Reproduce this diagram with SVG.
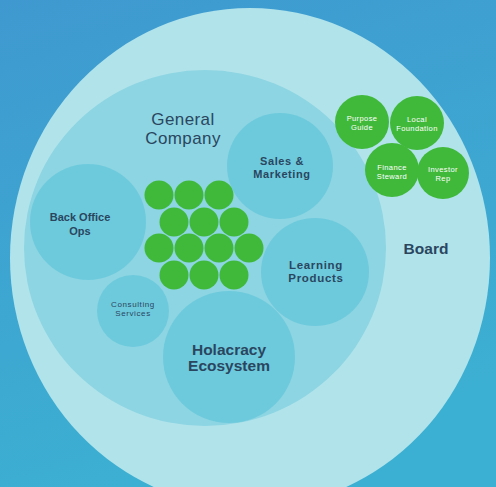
<svg xmlns="http://www.w3.org/2000/svg" width="496" height="487" viewBox="0 0 496 487">
  <defs>
    <linearGradient id="bg" x1="0" y1="0" x2="0.3" y2="1">
      <stop offset="0" stop-color="#3f99d0"/>
      <stop offset="1" stop-color="#3cb0d2"/>
    </linearGradient>
    <style>
      .outer { fill: #b1e3eb; }
      .mid { fill: #8dd5e2; }
      .sub { fill: #6dcadc; }
      .green { fill: #40b93a; }
      .t { font-family: "Liberation Sans", Arial, sans-serif; fill: #2a465f; text-anchor: middle; }
      .w { font-family: "Liberation Sans", Arial, sans-serif; fill: #ffffff; text-anchor: middle; font-size: 7.5px; letter-spacing: 0.4px; }
    </style>
  </defs>
  <rect x="0" y="0" width="496" height="487" fill="url(#bg)"/>

  <g id="board">
    <ellipse class="outer" cx="250" cy="258" rx="240" ry="250"/>
    <text class="t" x="426" y="254" font-size="15.5" font-weight="bold">Board</text>
  </g>

  <g id="general-company">
    <ellipse class="mid" cx="205" cy="248" rx="181" ry="178"/>
    <text class="t" x="183" y="125" font-size="17" letter-spacing="0.4">General</text>
    <text class="t" x="183" y="144" font-size="17" letter-spacing="0.4">Company</text>
  </g>

  <g id="back-office-ops">
    <circle class="sub" cx="88" cy="222" r="58"/>
    <text class="t" x="80" y="221" font-size="11" font-weight="bold">Back Office</text>
    <text class="t" x="80" y="235" font-size="11" font-weight="bold">Ops</text>
  </g>

  <g id="sales-marketing">
    <circle class="sub" cx="280" cy="166" r="53"/>
    <text class="t" x="282" y="165" font-size="11" font-weight="bold" letter-spacing="0.6">Sales &amp;</text>
    <text class="t" x="282" y="178" font-size="11" font-weight="bold" letter-spacing="0.6">Marketing</text>
  </g>

  <g id="learning-products">
    <circle class="sub" cx="315" cy="272" r="54"/>
    <text class="t" x="316" y="269" font-size="11.5" font-weight="bold" letter-spacing="0.7">Learning</text>
    <text class="t" x="316" y="282" font-size="11.5" font-weight="bold" letter-spacing="0.7">Products</text>
  </g>

  <g id="consulting-services">
    <circle class="sub" cx="133" cy="311" r="36"/>
    <text class="t" x="133" y="307" font-size="8" letter-spacing="0.6">Consulting</text>
    <text class="t" x="133" y="316" font-size="8" letter-spacing="0.6">Services</text>
  </g>

  <g id="holacracy-ecosystem">
    <circle class="sub" cx="229" cy="357" r="66"/>
    <text class="t" x="229" y="355" font-size="15.5" font-weight="bold">Holacracy</text>
    <text class="t" x="229" y="371" font-size="15.5" font-weight="bold">Ecosystem</text>
  </g>

  <g id="roles-cluster">
    <circle class="green" cx="159" cy="195" r="14.5"/>
    <circle class="green" cx="189" cy="195" r="14.5"/>
    <circle class="green" cx="219" cy="195" r="14.5"/>
    <circle class="green" cx="174" cy="222" r="14.5"/>
    <circle class="green" cx="204" cy="222" r="14.5"/>
    <circle class="green" cx="234" cy="222" r="14.5"/>
    <circle class="green" cx="159" cy="248" r="14.5"/>
    <circle class="green" cx="189" cy="248" r="14.5"/>
    <circle class="green" cx="219" cy="248" r="14.5"/>
    <circle class="green" cx="249" cy="248" r="14.5"/>
    <circle class="green" cx="174" cy="275" r="14.5"/>
    <circle class="green" cx="204" cy="275" r="14.5"/>
    <circle class="green" cx="234" cy="275" r="14.5"/>
  </g>

  <g id="purpose-guide">
    <circle class="green" cx="362" cy="122" r="27"/>
    <text class="w" x="362" y="121">Purpose</text>
    <text class="w" x="362" y="129.5">Guide</text>
  </g>
  <g id="local-foundation">
    <circle class="green" cx="417" cy="123" r="27"/>
    <text class="w" x="417" y="122">Local</text>
    <text class="w" x="417" y="130.5">Foundation</text>
  </g>
  <g id="finance-steward">
    <circle class="green" cx="392" cy="170" r="27"/>
    <text class="w" x="392" y="170">Finance</text>
    <text class="w" x="392" y="178.5">Steward</text>
  </g>
  <g id="investor-rep">
    <circle class="green" cx="443" cy="173" r="26"/>
    <text class="w" x="443" y="172">Investor</text>
    <text class="w" x="443" y="180.5">Rep</text>
  </g>

  <g id="connectors"/>
</svg>
